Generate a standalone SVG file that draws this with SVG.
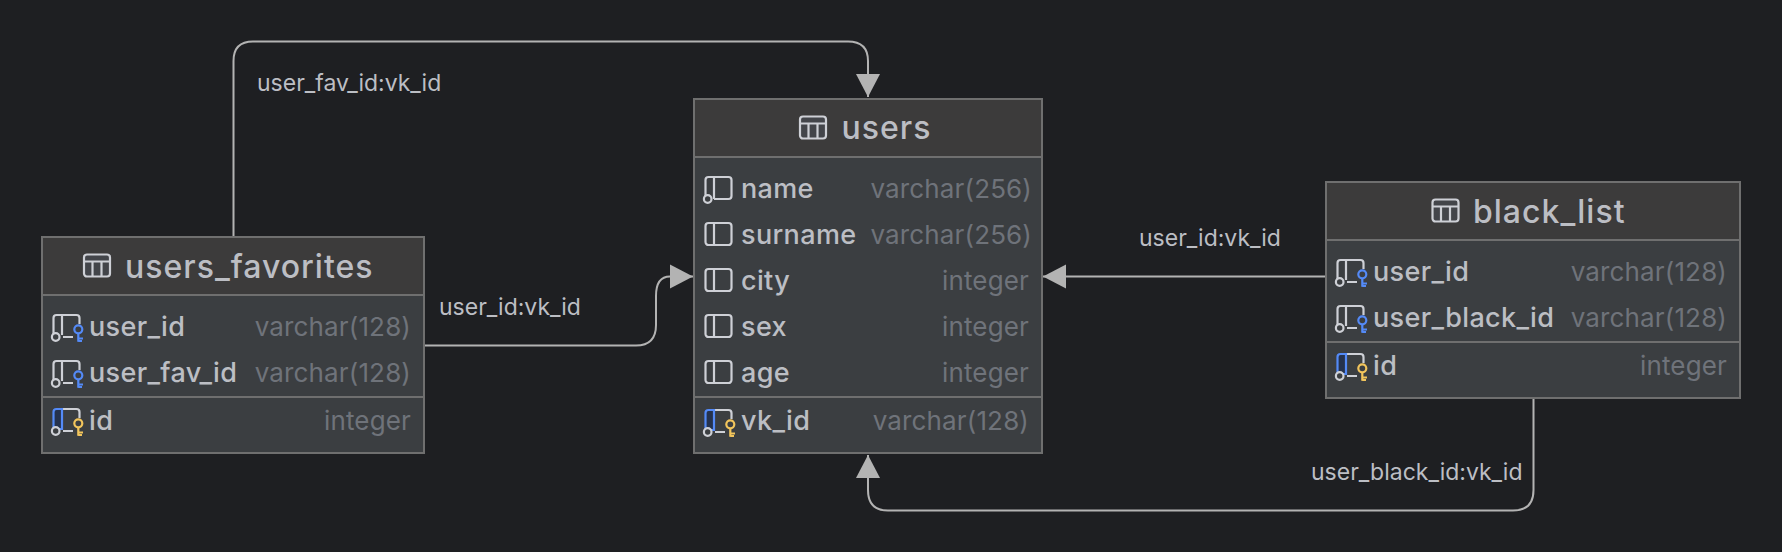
<svg xmlns="http://www.w3.org/2000/svg" width="1782" height="552" viewBox="0 0 1782 552">
<style>
text{font-family:Inter,"Noto Sans","Liberation Sans",sans-serif}
.body{fill:#3b3e41}
.head{fill:#3c3b3b}
.frame{fill:none;stroke:#6f6f6f;stroke-width:2}
.sep{stroke:#6f6f6f;stroke-width:2}
.title{font-size:32px;font-weight:500;fill:#bcbec4;letter-spacing:1px}
.col{font-size:27px;font-weight:500;fill:#bcbec4;letter-spacing:.35px}
.type{font-size:26px;fill:#6f737a;text-anchor:end;letter-spacing:.15px}
.lbl{font-size:23px;fill:#bcbec4}
.con{fill:none;stroke:#b3b3b3;stroke-width:2}
.ic{fill:none;stroke:#ced0d6;stroke-width:2.2}
.bk{fill:none;stroke:#548af7;stroke-width:2.2}
.yk{fill:none;stroke:#f2c55c;stroke-width:2.2}
</style>
<defs>
<marker id="arrow" markerUnits="userSpaceOnUse" markerWidth="26" markerHeight="26" refX="23" refY="12.5" orient="auto"><path d="M0 0.5L23 12.5L0 24.5Z" fill="#b3b3b3"/></marker>
<g id="tableIcon"><rect x="0.5" y="-23.500" width="26" height="22" rx="3" style="fill:#43454a;stroke:#ced0d6;stroke-width:2.2"/><path class="ic" d="M0.5 -16.500H26.500M9 -16.500V-1.500M18 -16.500V-1.500"/></g>
<g id="colIcon"><rect x="0.5" y="-20" width="26" height="22" rx="3" class="ic"/><path class="ic" d="M9 -20V2"/></g>
<g id="nullIcon"><path class="ic" d="M0.5 -1V-17Q0.5 -20 3.5 -20H23.500Q26.500 -20 26.500 -17V-1Q26.500 2 23.500 2H9M9 -20V2"/><circle cx="2.700" cy="2" r="3.800" style="fill:#3b3e41;stroke:#ced0d6;stroke-width:2.2"/></g>
<g id="fkIcon"><path class="ic" d="M0.5 -1V-17Q0.5 -20 3.5 -20H23.500Q26.500 -20 26.500 -17V-11M9 -20V0M10 2H20"/><circle cx="2.700" cy="2" r="3.800" class="ic"/><circle cx="25.300" cy="-5.700" r="4" class="bk"/><path class="bk" d="M25.300 -2V6.700M25.300 3.500H30M25.300 6H29"/></g>
<g id="pkIcon"><path class="ic" d="M9 -20H23.500Q26.500 -20 26.500 -17V-11M10 2H20"/><path d="M0.5 -1V-17Q0.5 -20 3.5 -20H9V0H0.5Z" style="fill:#25324d;stroke:#548af7;stroke-width:2.2"/><circle cx="2.700" cy="2" r="3.800" style="fill:#3b3e41;stroke:#ced0d6;stroke-width:2.2"/><circle cx="25.300" cy="-5.700" r="4" class="yk"/><path class="yk" d="M25.300 -2V6.700M25.300 3.500H30M25.300 6H29"/></g>
</defs>
<rect width="1782" height="552" fill="#1e1f22"/>
<g id="connectors">
<path class="con" marker-end="url(#arrow)" d="M233.500 236V61Q233.500 41.500 253 41.500H848Q868 41.500 868 61V97"/>
<path class="con" marker-end="url(#arrow)" d="M424 345.500H636Q656 345.500 656 325V296Q656 276.500 670 276.500H693"/>
<path class="con" marker-end="url(#arrow)" d="M1326 276.500H1043"/>
<path class="con" marker-end="url(#arrow)" d="M1533.500 398V490Q1533.500 510.500 1513 510.500H888Q868 510.500 868 490V455"/>
<text class="lbl" x="257" y="91">user_fav_id:vk_id</text>
<text class="lbl" x="439" y="315">user_id:vk_id</text>
<text class="lbl" x="1139" y="246">user_id:vk_id</text>
<text class="lbl" x="1311" y="480">user_black_id:vk_id</text>
</g>
<g id="users_favorites">
<rect class="body" x="42" y="237" width="382" height="216"/>
<rect class="head" x="42" y="237" width="382" height="58"/>
<rect class="frame" x="42" y="237" width="382" height="216"/>
<path class="sep" d="M42 295H424M42 397H424"/>
<use href="#tableIcon" x="83.500" y="278"/>
<text class="title" x="125" y="278">users_favorites</text>
<use href="#fkIcon" x="53" y="335"/><text class="col" x="89" y="336">user_id</text><text class="type" x="411" y="336">varchar(128)</text>
<use href="#fkIcon" x="53" y="381"/><text class="col" x="89" y="382">user_fav_id</text><text class="type" x="411" y="382">varchar(128)</text>
<use href="#pkIcon" x="53" y="429"/><text class="col" x="89" y="430">id</text><text class="type" x="411" y="430">integer</text>
</g>
<g id="users">
<rect class="body" x="694" y="99" width="348" height="354"/>
<rect class="head" x="694" y="99" width="348" height="58"/>
<rect class="frame" x="694" y="99" width="348" height="354"/>
<path class="sep" d="M694 157H1042M694 397H1042"/>
<use href="#tableIcon" x="799.500" y="140"/>
<text class="title" x="841.500" y="139">users</text>
<use href="#nullIcon" x="705" y="197"/><text class="col" x="741" y="198">name</text><text class="type" x="1032" y="198">varchar(256)</text>
<use href="#colIcon" x="705" y="243"/><text class="col" x="741" y="244">surname</text><text class="type" x="1032" y="244">varchar(256)</text>
<use href="#colIcon" x="705" y="289"/><text class="col" x="741" y="290">city</text><text class="type" x="1029" y="290">integer</text>
<use href="#colIcon" x="705" y="335"/><text class="col" x="741" y="336">sex</text><text class="type" x="1029" y="336">integer</text>
<use href="#colIcon" x="705" y="381"/><text class="col" x="741" y="382">age</text><text class="type" x="1029" y="382">integer</text>
<use href="#pkIcon" x="705" y="430"/><text class="col" x="741" y="430">vk_id</text><text class="type" x="1029" y="430">varchar(128)</text>
</g>
<g id="black_list">
<rect class="body" x="1326" y="182" width="414" height="216"/>
<rect class="head" x="1326" y="182" width="414" height="58"/>
<rect class="frame" x="1326" y="182" width="414" height="216"/>
<path class="sep" d="M1326 240H1740M1326 342H1740"/>
<use href="#tableIcon" x="1432" y="223"/>
<text class="title" x="1473" y="223">black_list</text>
<use href="#fkIcon" x="1337" y="280"/><text class="col" x="1373" y="281">user_id</text><text class="type" x="1727" y="281">varchar(128)</text>
<use href="#fkIcon" x="1337" y="326"/><text class="col" x="1373" y="327">user_black_id</text><text class="type" x="1727" y="327">varchar(128)</text>
<use href="#pkIcon" x="1337" y="374"/><text class="col" x="1373" y="375">id</text><text class="type" x="1727" y="375">integer</text>
</g>
</svg>
